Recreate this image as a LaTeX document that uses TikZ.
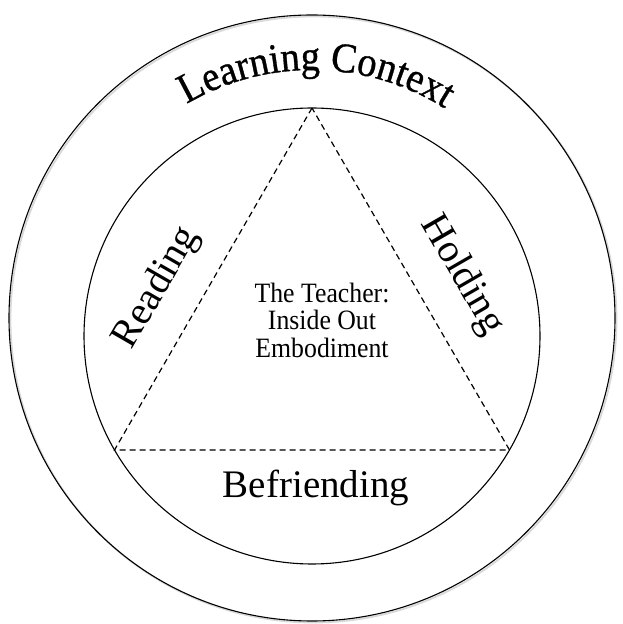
\documentclass[tikz,border=0pt]{standalone}
\usepackage{fontspec}
\setmainfont{Liberation Serif}
\newfontfamily\titlefont[FakeBold=0.8, FakeStretch=0.92]{Liberation Serif}
\usetikzlibrary{decorations.text}
\begin{document}
\begin{tikzpicture}[x=1pt,y=1pt,
  ring/.style={draw=black, line width=1.1pt},
  ringshadow/.style={draw=black!15, line width=1.8pt},
  tri/.style={draw=black, line width=1.2pt, dash pattern=on 6pt off 4pt},
  bigword/.style={font=\fontsize{39}{39}\selectfont, inner sep=0pt},
  sideword/.style={font=\fontsize{40}{40}\selectfont, inner sep=0pt},
  core/.style={font=\fontsize{28}{27.5}\selectfont, align=center, inner sep=0pt, xscale=0.92, transform shape}]
\useasboundingbox (0,0) rectangle (622,624);
% outer ring with faint shadow
\draw[ringshadow] (313.5,304.5) circle[radius=303];
\draw[ring] (312,306) circle[radius=303];
% inner ring
\draw[ring] (312,288) circle[radius=228];
% triangle
\coordinate (A) at (312,516);
\coordinate (B) at (114.5,174);
\coordinate (D) at (509.5,174);
\draw[tri] (A) -- (B) -- (D) -- cycle;
% curved title
\path[decorate, decoration={text along path, text={|\titlefont\fontsize{42}{42}\selectfont|Learning Context}, text align=center}]
  (180.6,516.3) arc[start angle=122, end angle=56, radius=248];
% labels
\node[bigword, anchor=base] (befr) at (316,126) {Befriending};
\node[sideword, rotate=60] (read) at (157,336) {Reading};
\node[sideword, rotate=-60] (hold) at (462,349) {Holding};
\node[core] (teach) at (322,304) {The Teacher:\\Inside Out\\Embodiment};
\end{tikzpicture}
\end{document}
